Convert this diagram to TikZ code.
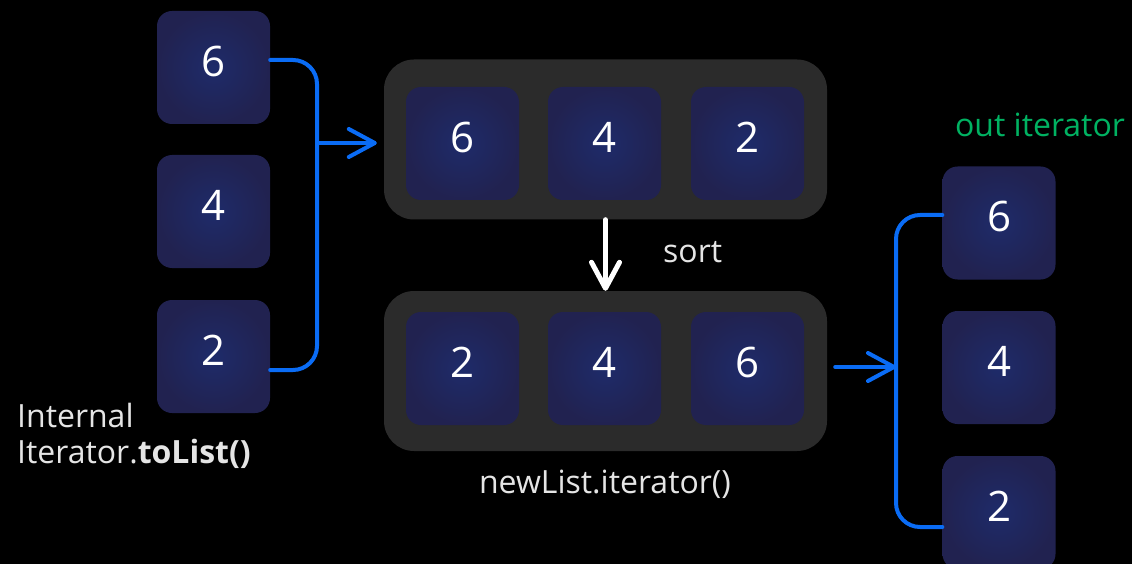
\documentclass[tikz,border=0pt]{standalone}
\usepackage{fontspec}
\setmainfont{Open Sans}
\usetikzlibrary{arrows.meta,positioning,calc}

\definecolor{boxin}{RGB}{30,43,106}
\definecolor{boxout}{RGB}{33,34,80}
\definecolor{panel}{RGB}{43,43,43}
\definecolor{flowblue}{RGB}{10,108,245}
\definecolor{outgreen}{RGB}{0,178,98}

\tikzset{
  numbox/.style={rounded corners=15pt, minimum size=113pt, inner sep=0pt,
    shading=radial, inner color=boxin, outer color=boxout, text=white,
    font=\fontsize{42}{46}\selectfont, text height=30pt, text depth=12pt},
  panelbox/.style={fill=panel, rounded corners=30pt, minimum width=443pt,
    minimum height=160pt, inner sep=0pt},
  flow/.style={draw=flowblue, line width=4pt, line cap=round},
  flowarrow/.style={flow, -{Straight Barb[length=26pt,width=28pt,round]}},
  sortarrow/.style={draw=white, line width=5pt, line cap=round,
    -{Straight Barb[length=26pt,width=28pt,round]}},
  caption/.style={text=white!90!black, font=\fontsize{32}{36}\selectfont, inner sep=0pt},
}

\begin{document}
\begin{tikzpicture}[x=1pt,y=-1pt]
% background
\fill[black] (0,0) rectangle (1132,564);
\useasboundingbox (0,0) rectangle (1132,564);
% list panels
\node[panelbox] (list) at (605.5,139.5) {};
\node[panelbox] (sorted) at (605.5,371) {};
% internal iterator values
\foreach \v/\y in {6/67.5,4/211.5,2/356.5} {
  \node[numbox] (in\v) at (213.5,\y) {\v};
}
% toList() result and sorted copy
\foreach \v/\w/\x in {6/2/462.5,4/4/604.5,2/6/747.5} {
  \node[numbox] (list\v) at (\x,143.5) {\v};
  \node[numbox] (sorted\w) at (\x,368.5) {\w};
}
% out iterator values
\foreach \v/\y in {6/223,4/367.5,2/512.5} {
  \node[numbox] (out\v) at (999,\y) {\v};
}
% labels
\node[caption, align=left, anchor=base west] (tolist) at (17,463) {Internal\\Iterator.\textbf{toList()}};
\node[caption, anchor=base west] (sortlbl) at (663,262) {sort};
\node[caption, anchor=base] (newiter) at (605,493) {newList.iterator()};
\node[caption, text=outgreen, anchor=base] (outlbl) at (1040,137) {out iterator};
% gather into list
\coordinate (gather) at (317,143);
\coordinate (in6out) at ([yshift=7.5pt]in6.east);
\coordinate (in2out) at ([yshift=-13.5pt]in2.east);
\draw[flow, rounded corners=24pt] (in6out) -| (gather |- in2out) -- (in2out);
\draw[flowarrow, shorten >=7pt] (gather) -- (gather -| list.west);
% sort step
\draw[sortarrow] (list.south) -- (sorted.north);
% spread into out iterator
\coordinate (spread) at (896,367);
\coordinate (out6in) at ([yshift=8pt]out6.west);
\coordinate (out2in) at ([yshift=-14.5pt]out2.west);
\draw[flow, rounded corners=24pt] (out6in) -| (spread |- out2in) -- (out2in);
\draw[flowarrow] ([xshift=8pt]sorted.east |- spread) -- (spread);
\end{tikzpicture}
\end{document}
